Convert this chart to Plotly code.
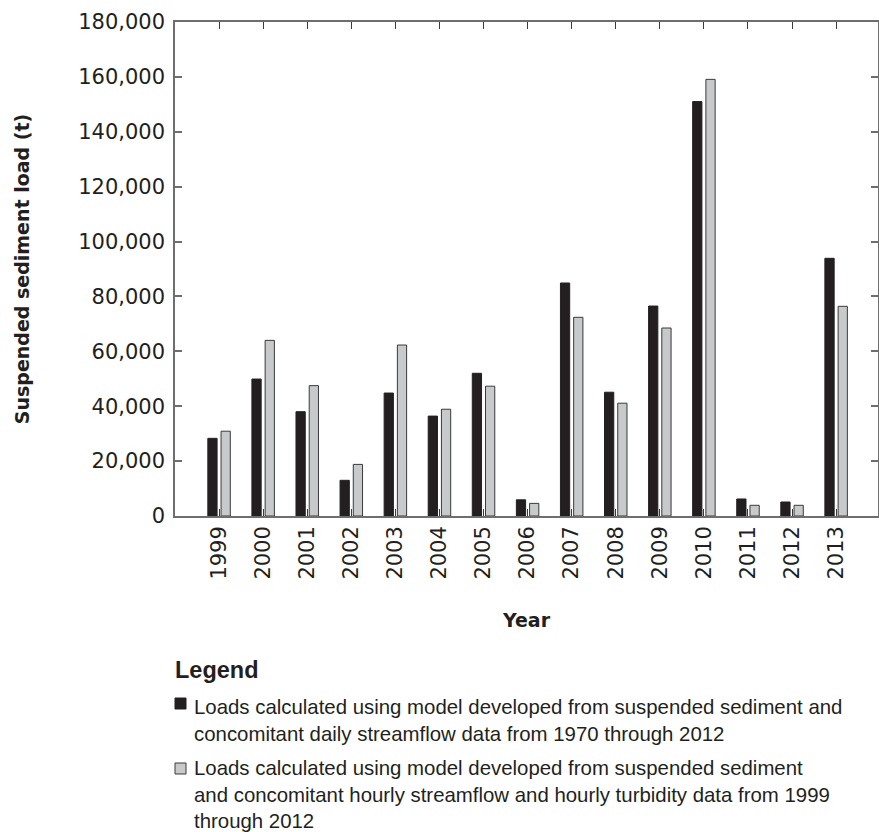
import plotly.graph_objects as go

# Annual suspended-sediment loads, metric tons
years = ["1999", "2000", "2001", "2002", "2003", "2004", "2005", "2006",
         "2007", "2008", "2009", "2010", "2011", "2012", "2013"]
daily_model_loads = [28300, 49900, 38000, 13000, 44800, 36400, 52000, 5900,
                     84900, 45100, 76500, 151000, 6200, 5100, 93900]
hourly_model_loads = [30900, 64000, 47500, 18800, 62300, 38900, 47300, 4600,
                      72400, 41100, 68500, 159100, 3900, 3900, 76400]
y_ticks = [0, 20000, 40000, 60000, 80000, 100000, 120000, 140000, 160000, 180000]

legend_labels = [
    "Loads calculated using model developed from suspended sediment and<br>"
    "concomitant daily streamflow data from 1970 through 2012",
    "Loads calculated using model developed from suspended sediment<br>"
    "and concomitant hourly streamflow and hourly turbidity data from 1999<br>"
    "through 2012",
]

DARK = "#231f20"
GRAY_FILL = "#c8c9cb"
AXIS = "#6e6e6e"

W, H = 879, 832
L, R, T, B = 175, 1, 22, 316
PW, PH = W - L - R, H - T - B


def px(x):
    return (x - L) / PW


def py(y):
    return (H - B - y) / PH


fig = go.Figure()
fig.add_trace(go.Bar(
    x=years, y=daily_model_loads, name="Daily streamflow model",
    marker=dict(color=DARK, line=dict(color=DARK, width=1)),
))
fig.add_trace(go.Bar(
    x=years, y=hourly_model_loads, name="Hourly streamflow and turbidity model",
    marker=dict(color=GRAY_FILL, line=dict(color="#3a3a3a", width=1)),
))

tick_font = dict(family="DejaVu Sans", size=21, color=DARK)
title_font = dict(family="DejaVu Sans", size=19, color=DARK)

fig.update_layout(
    width=W, height=H,
    margin=dict(l=L, r=R, t=T, b=B, pad=0),
    paper_bgcolor="white", plot_bgcolor="white",
    barmode="group", bargap=0.4, bargroupgap=0.3,
    showlegend=False,
    xaxis=dict(
        type="category", range=[-1, len(years) - 0.05],
        showgrid=False, zeroline=False,
        showline=True, linecolor=AXIS, linewidth=1.5, mirror="ticks",
        ticks="inside", ticklen=7, tickwidth=1, tickcolor="#3a3a3a",
        tickangle=-90, tickfont=tick_font, ticklabelstandoff=0,
        title=dict(text="<b>Year</b>", font=title_font, standoff=35),
        automargin=False,
    ),
    yaxis=dict(
        range=[0, 180000], tickvals=y_ticks, tickformat=",",
        showgrid=False, zeroline=False,
        showline=True, linecolor=AXIS, linewidth=1.5, mirror="ticks",
        ticks="inside", ticklen=7, tickwidth=1.5, tickcolor=AXIS,
        tickfont=tick_font, ticklabelstandoff=4,
        title=dict(text="<b>Suspended sediment load (t)</b>", font=title_font, standoff=44),
        automargin=False,
    ),
)

# Legend block drawn beneath the chart
fig.add_annotation(
    x=px(173), y=py(655), xref="paper", yref="paper",
    xanchor="left", yanchor="top", showarrow=False,
    text="<b>Legend</b>",
    font=dict(family="Liberation Sans", size=23.5, color=DARK),
)
swatches = [(DARK, DARK, 698, 694), (GRAY_FILL, "#3a3a3a", 763, 755)]
for (fill, edge, top, text_top), label in zip(swatches, legend_labels):
    fig.add_shape(
        type="rect", xref="paper", yref="paper",
        x0=px(175), x1=px(186), y0=py(top), y1=py(top + 11),
        fillcolor=fill, line=dict(color=edge, width=1),
    )
    fig.add_annotation(
        x=px(192), y=py(text_top), xref="paper", yref="paper",
        xanchor="left", yanchor="top", align="left", showarrow=False,
        text=label,
        font=dict(family="Liberation Sans", size=20.4, color=DARK),
    )

fig.write_html("out.html")
